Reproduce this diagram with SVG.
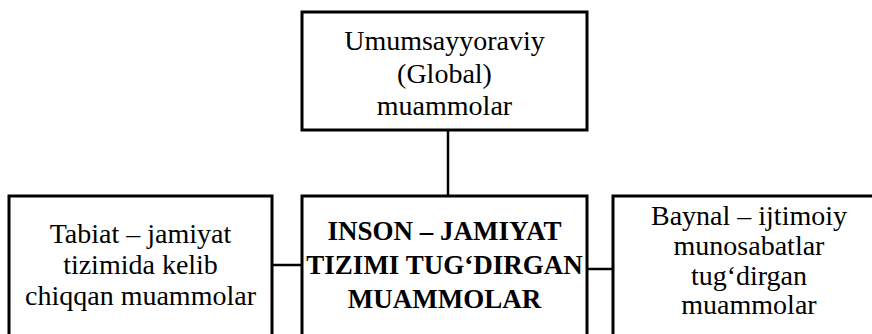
<svg xmlns="http://www.w3.org/2000/svg" width="872" height="334" viewBox="0 0 872 334">
<style>
.box{fill:#fff;stroke:#000;stroke-width:3}
.t{font-family:"Liberation Serif","Times New Roman",serif;font-size:28px;fill:#000;text-anchor:middle}
.b{font-weight:bold;font-size:27px}
.c{stroke:#000;stroke-width:2.5;fill:none}
</style>
<rect width="872" height="334" fill="#fff"/>
<g id="connectors">
<line class="c" x1="448" y1="130" x2="448" y2="196"/>
<line class="c" x1="272" y1="265" x2="302" y2="265"/>
<line class="c" x1="587" y1="269" x2="613" y2="269"/>
</g>
<g id="global">
<rect class="box" x="302" y="12" width="285" height="118"/>
<text class="t" x="444.5" y="50">Umumsayyoraviy</text>
<text class="t" x="444.5" y="83">(Global)</text>
<text class="t" x="444.5" y="115">muammolar</text>
</g>
<g id="tabiat">
<rect class="box" x="9" y="196" width="263" height="150"/>
<text class="t" x="140.5" y="243">Tabiat – jamiyat</text>
<text class="t" x="140.5" y="274">tizimida kelib</text>
<text class="t" x="140.5" y="305">chiqqan muammolar</text>
</g>
<g id="inson">
<rect class="box" x="302" y="196" width="285" height="150"/>
<text class="t b" x="444.5" y="240">INSON – JAMIYAT</text>
<text class="t b" x="444.5" y="274">TIZIMI TUG‘DIRGAN</text>
<text class="t b" x="444.5" y="308">MUAMMOLAR</text>
</g>
<g id="baynal">
<rect class="box" x="613" y="196" width="272" height="150"/>
<text class="t" x="749" y="225">Baynal – ijtimoiy</text>
<text class="t" x="749" y="255">munosabatlar</text>
<text class="t" x="749" y="285">tug‘dirgan</text>
<text class="t" x="749" y="314">muammolar</text>
</g>
</svg>
